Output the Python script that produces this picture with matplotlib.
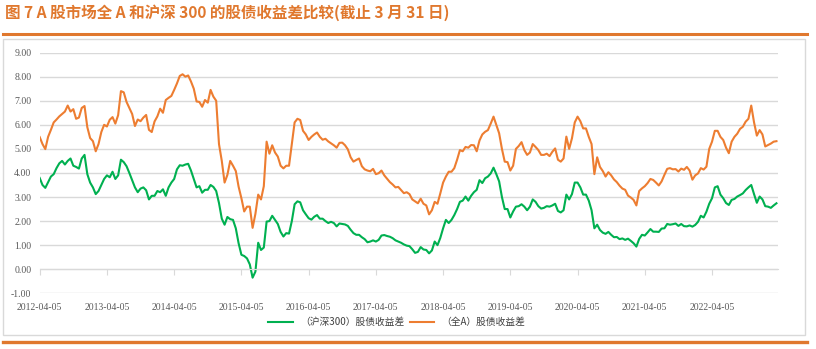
import numpy as np
import pandas as pd
import matplotlib
matplotlib.use("Agg")
import matplotlib.pyplot as plt
from matplotlib.lines import Line2D
from matplotlib.patches import Rectangle

plt.rcParams['font.family'] = ['Noto Sans CJK SC', 'DejaVu Sans']

# 半月频数据, 起点 2012-04-05
start_date = "2012-04-05"
end_date = "2023-03-31"
step_days = 365.25 / 24

# (全A) 股债收益差
spread_all_a = [
    5.49, 5.20, 4.99, 5.50, 5.79, 6.10, 6.22, 6.35, 6.45, 6.55,
    6.80, 6.55, 6.65, 6.25, 6.30, 6.70, 6.78, 5.90, 5.45, 5.32,
    4.90, 5.20, 5.70, 6.00, 5.93, 6.21, 6.32, 6.05, 6.40, 7.40,
    7.35, 6.95, 6.70, 6.45, 5.95, 6.22, 6.15, 6.30, 6.41, 5.79,
    5.70, 6.14, 6.35, 6.67, 6.50, 7.03, 7.12, 7.20, 7.45, 7.72,
    8.03, 8.10, 8.00, 8.05, 7.80, 7.50, 6.97, 6.95, 6.75, 7.03,
    6.92, 7.45, 7.17, 7.00, 5.20, 4.50, 3.60, 3.92, 4.50, 4.30,
    4.08, 3.43, 2.95, 2.40, 2.60, 2.60, 1.72, 2.30, 3.10, 2.90,
    3.45, 5.30, 4.80, 5.15, 4.85, 4.68, 4.30, 4.19, 4.30, 4.30,
    5.20, 6.10, 6.25, 6.20, 5.75, 5.60, 5.37, 5.50, 5.60, 5.68,
    5.50, 5.38, 5.42, 5.31, 5.23, 5.15, 5.05, 5.25, 5.26, 5.15,
    4.98, 4.65, 4.47, 4.54, 4.60, 4.28, 4.15, 4.10, 4.07, 4.17,
    3.95, 3.99, 4.10, 3.90, 3.76, 3.62, 3.52, 3.40, 3.42, 3.29,
    3.16, 3.20, 3.12, 2.90, 2.82, 2.74, 2.93, 2.72, 2.65, 2.28,
    2.45, 2.80, 2.72, 3.15, 3.60, 3.85, 4.05, 4.05, 4.20, 4.55,
    4.95, 4.90, 5.08, 5.05, 5.16, 5.15, 4.90, 5.35, 5.60, 5.71,
    5.78, 6.05, 6.34, 6.00, 5.65, 5.00, 4.47, 4.45, 4.10, 4.30,
    5.00, 5.12, 5.28, 4.95, 4.75, 4.85, 5.20, 5.08, 4.95, 4.75,
    4.75, 4.80, 4.70, 4.88, 5.02, 4.55, 4.47, 4.60, 5.51, 5.00,
    5.44, 6.10, 6.34, 6.15, 5.85, 5.85, 5.50, 5.20, 3.95, 4.65,
    4.25, 4.08, 3.85, 4.03, 3.90, 3.73, 3.62, 3.47, 3.35, 3.30,
    3.06, 2.98, 2.88, 2.65, 3.25, 3.36, 3.45, 3.58, 3.75, 3.71,
    3.60, 3.48, 3.65, 3.92, 4.17, 4.20, 4.15, 4.16, 4.06, 4.18,
    4.13, 4.25, 4.10, 3.72, 3.90, 3.98, 4.20, 4.14, 4.26, 5.00,
    5.30, 5.75, 5.75, 5.50, 5.37, 5.05, 4.82, 5.30, 5.50, 5.63,
    5.83, 5.92, 6.13, 6.25, 6.80, 6.10, 5.55, 5.78, 5.60, 5.10,
    5.16, 5.22, 5.30, 5.32,
]

# (沪深300) 股债收益差
spread_hs300 = [
    3.79, 3.50, 3.38, 3.62, 3.85, 3.95, 4.20, 4.40, 4.50, 4.35,
    4.50, 4.60, 4.30, 4.25, 4.18, 4.60, 4.75, 3.95, 3.60, 3.40,
    3.12, 3.25, 3.50, 3.75, 3.90, 3.82, 4.05, 3.75, 3.90, 4.55,
    4.45, 4.28, 4.00, 3.70, 3.40, 3.20, 3.35, 3.40, 3.28, 2.90,
    3.05, 3.05, 3.25, 3.20, 3.32, 3.05, 3.40, 3.60, 3.75, 4.15,
    4.32, 4.30, 4.35, 4.38, 4.10, 3.75, 3.40, 3.45, 3.18, 3.30,
    3.30, 3.50, 3.42, 3.25, 2.75, 2.10, 1.85, 2.17, 2.08, 2.05,
    1.70, 1.08, 0.60, 0.55, 0.45, 0.20, -0.35, -0.10, 1.10, 0.80,
    0.90, 1.98, 2.00, 2.22, 2.05, 1.88, 1.55, 1.36, 1.50, 1.48,
    2.00, 2.70, 2.82, 2.78, 2.45, 2.28, 2.12, 2.06, 2.18, 2.25,
    2.10, 2.10, 2.00, 1.92, 1.97, 1.92, 1.78, 1.90, 1.88, 1.86,
    1.80, 1.64, 1.50, 1.43, 1.43, 1.33, 1.25, 1.12, 1.15, 1.20,
    1.15, 1.22, 1.40, 1.42, 1.38, 1.35, 1.29, 1.20, 1.15, 1.10,
    1.03, 0.98, 0.96, 0.83, 0.68, 0.72, 0.92, 0.82, 0.80, 0.66,
    0.78, 1.15, 1.00, 1.30, 1.70, 2.05, 1.92, 2.05, 2.25, 2.50,
    2.80, 2.85, 3.02, 2.85, 3.05, 3.20, 3.30, 3.70, 3.58, 3.78,
    3.85, 3.98, 4.22, 3.95, 3.65, 3.00, 2.50, 2.50, 2.15, 2.40,
    2.60, 2.62, 2.70, 2.60, 2.45, 2.60, 2.90, 2.80, 2.62, 2.52,
    2.55, 2.62, 2.60, 2.65, 2.72, 2.42, 2.36, 2.45, 3.10, 2.90,
    3.12, 3.60, 3.60, 3.40, 3.10, 3.10, 2.85, 2.45, 1.70, 1.85,
    1.63, 1.52, 1.47, 1.55, 1.43, 1.33, 1.34, 1.25, 1.28, 1.22,
    1.27, 1.18, 1.08, 0.94, 1.26, 1.43, 1.40, 1.53, 1.67, 1.56,
    1.56, 1.55, 1.69, 1.70, 1.88, 1.85, 1.87, 1.90, 1.80, 1.88,
    1.79, 1.78, 1.82, 1.77, 1.84, 1.97, 2.22, 2.15, 2.39, 2.72,
    2.95, 3.40, 3.45, 3.10, 2.95, 2.75, 2.67, 2.88, 2.92, 3.02,
    3.08, 3.15, 3.29, 3.40, 3.50, 3.12, 2.76, 3.02, 2.90, 2.62,
    2.60, 2.55, 2.65, 2.74,
]

tick_dates = ["2012-04-05", "2013-04-05", "2014-04-05", "2015-04-05",
              "2016-04-05", "2017-04-05", "2018-04-05", "2019-04-05",
              "2020-04-05", "2021-04-05", "2022-04-05"]
y_ticks = [-1, 0, 1, 2, 3, 4, 5, 6, 7, 8, 9]

title = "图 7 A 股市场全 A 和沪深 300 的股债收益差比较(截止 3 月 31 日)"
label_hs300 = "（沪深300）股债收益差"
label_all_a = "（全A）股债收益差"

c_green = "#00B050"
c_orange = "#ED7D31"
c_rule = "#E0782E"
c_grid = "#D9D9D9"
c_text = "#595959"

n = len(spread_all_a)
dates = pd.Timestamp(start_date) + pd.to_timedelta(np.arange(n) * step_days, unit="D")
ticks = pd.to_datetime(tick_dates)

fig = plt.figure(figsize=(8.16, 3.49), dpi=100)
W, H = 816, 349

# 外框和上下两条橙色横线
fig.patches.append(Rectangle((3 / W, 1 - 335 / H), 802 / W, 296 / H,
                             transform=fig.transFigure, fill=False,
                             edgecolor=c_grid, lw=1.0))
fig.lines.append(Line2D([3 / W, 807 / W], [1 - 33.5 / H, 1 - 33.5 / H],
                        transform=fig.transFigure, color=c_rule, lw=2.2))
fig.lines.append(Line2D([3 / W, 807 / W], [1 - 341.5 / H, 1 - 341.5 / H],
                        transform=fig.transFigure, color=c_rule, lw=2.4))

fig.text(5 / W, 1 - 13 / H, title, color=c_rule, fontsize=11.2,
         fontweight="bold", ha="left", va="center")

ax = fig.add_axes([39.7 / W, 1 - 293.3 / H, 738.5 / W, 240.7 / H])
ax.plot(dates, spread_hs300, color=c_green, lw=1.5, label=label_hs300)
ax.plot(dates, spread_all_a, color=c_orange, lw=1.5, label=label_all_a)

ax.set_xlim(pd.Timestamp(start_date), pd.Timestamp(end_date))
ax.set_ylim(-1, 9)
ax.set_yticks(y_ticks)
ax.set_yticklabels(["%.2f" % v for v in y_ticks], family="Liberation Serif",
                   fontsize=7, color=c_text)
ax.tick_params(axis="y", length=0, pad=6)
ax.grid(axis="y", color=c_grid, lw=1.0)
ax.set_axisbelow(True)
for s in ["top", "right", "left"]:
    ax.spines[s].set_visible(False)

# 横轴线放在 0 处, 刻度朝下
ax.spines["bottom"].set_position(("data", 0))
ax.spines["bottom"].set_color(c_grid)
ax.set_xticks(ticks)
ax.tick_params(axis="x", direction="out", length=4, color=c_grid,
               labelbottom=False)

# 日期标签放在图底部
sec = ax.secondary_xaxis(0.0)
sec.set_xticks(ticks)
sec.set_xticklabels(tick_dates, family="Liberation Serif", fontsize=7,
                    color=c_text)
sec.tick_params(length=0, pad=7)
sec.spines["bottom"].set_visible(False)

fig.legend(loc="center", bbox_to_anchor=(397 / W, 1 - 322 / H), ncol=2,
           frameon=False, fontsize=7, handlelength=2.5, columnspacing=0.5,
           handletextpad=0.8, labelcolor="#404040")

fig.savefig("out.png", dpi=100)
